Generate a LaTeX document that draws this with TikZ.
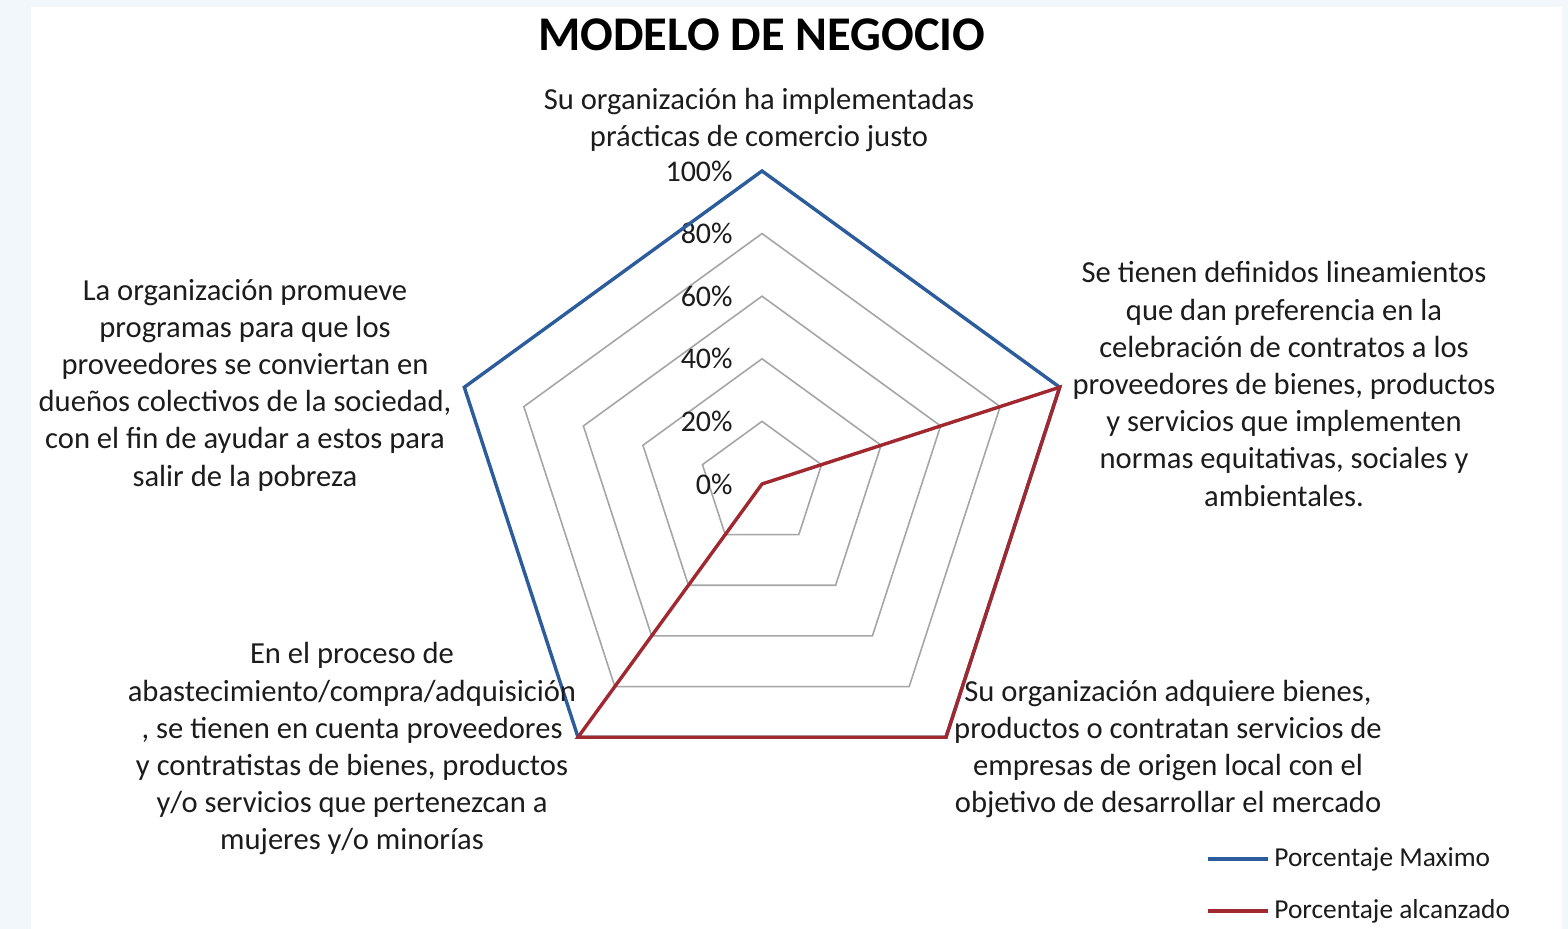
\documentclass[tikz,border=0pt]{standalone}
\usepackage{fontspec}
\setmainfont{Carlito}
\usetikzlibrary{calc}
\definecolor{maxblue}{HTML}{2D5C9C}
\definecolor{reachred}{HTML}{A0282E}
\definecolor{ringgray}{HTML}{A6A6A6}
\definecolor{slidebg}{HTML}{F2F7FB}
\definecolor{textgray}{HTML}{1C1C1C}

\begin{document}
\begin{tikzpicture}[x=0.5pt, y=0.5pt,
  axislabel/.style={align=center, text=textgray, font=\fontsize{15.3pt}{18.6pt}\selectfont},
  ticklabel/.style={anchor=east, inner sep=0pt, text=textgray, font=\fontsize{15pt}{18pt}\selectfont},
  legendlabel/.style={anchor=west, inner sep=0pt, text=textgray, font=\fontsize{13.7pt}{16pt}\selectfont},
  ring/.style={ringgray, line width=0.8pt},
  maxline/.style={maxblue, line width=1.7pt},
  reachline/.style={reachred, line width=1.7pt}]
% Background
\fill[slidebg] (0,0) rectangle (1568,929);
\fill[white] (31,0) rectangle (1562,922);
\useasboundingbox (0,0) rectangle (1568,929);
\coordinate (origin) at (762,445);
% Title
\node[text=black, font=\fontsize{24.2pt}{27pt}\selectfont\bfseries] (title) at (762,894) {MODELO DE NEGOCIO};
\begin{scope}[shift={(origin)}]
% Draw rings
\foreach \r in {62.6,125.2,187.8,250.4}
  \draw[ring] (90:\r) -- (162:\r) -- (234:\r) -- (306:\r) -- (18:\r) -- cycle;
% Draw tick labels
\foreach \i in {0,...,5}
  \node[ticklabel] (tick\i) at (-29,{62.6*\i}) {\the\numexpr\i*20\relax\%};
% Draw series
\draw[maxline, line join=miter] (90:313) -- (162:313) -- (234:313) -- (306:313) -- (18:313) -- cycle;
\draw[reachline, line join=miter] (0,0) -- (18:313) -- (306:313) -- (234:313) -- cycle;
\end{scope}
% Axis labels
\node[axislabel] (lbltop) at (759,809) {Su organización ha implementadas\\prácticas de comercio justo};
\node[axislabel] (lblright) at (1284,545) {Se tienen definidos lineamientos\\que dan preferencia en la\\celebración de contratos a los\\proveedores de bienes, productos\\y servicios que implementen\\normas equitativas, sociales y\\ambientales.};
\node[axislabel] (lbllowright) at (1168,180) {Su organización adquiere bienes,\\productos o contratan servicios de\\empresas de origen local con el\\objetivo de desarrollar el mercado};
\node[axislabel] (lbllowleft) at (352,180) {En el proceso de\\abastecimiento/compra/adquisición\\, se tienen en cuenta proveedores\\y contratistas de bienes, productos\\y/o servicios que pertenezcan a\\mujeres y/o minorías};
\node[axislabel] (lblleft) at (245,544) {La organización promueve\\programas para que los\\proveedores  se conviertan en\\dueños colectivos de la sociedad,\\con el fin de ayudar a estos para\\salir de la pobreza};
% Legend
\coordinate (maxstart) at (1208,70);
\coordinate (reachstart) at (1208,18);
\node[legendlabel] (maxtext) at (1274,70) {Porcentaje Maximo};
\node[legendlabel] (reachtext) at (1274,18) {Porcentaje alcanzado};
\draw[maxline] (maxstart) -- ++(60,0) coordinate (maxend);
\draw[reachline] (reachstart) -- ++(60,0) coordinate (reachend);
\end{tikzpicture}
\end{document}
